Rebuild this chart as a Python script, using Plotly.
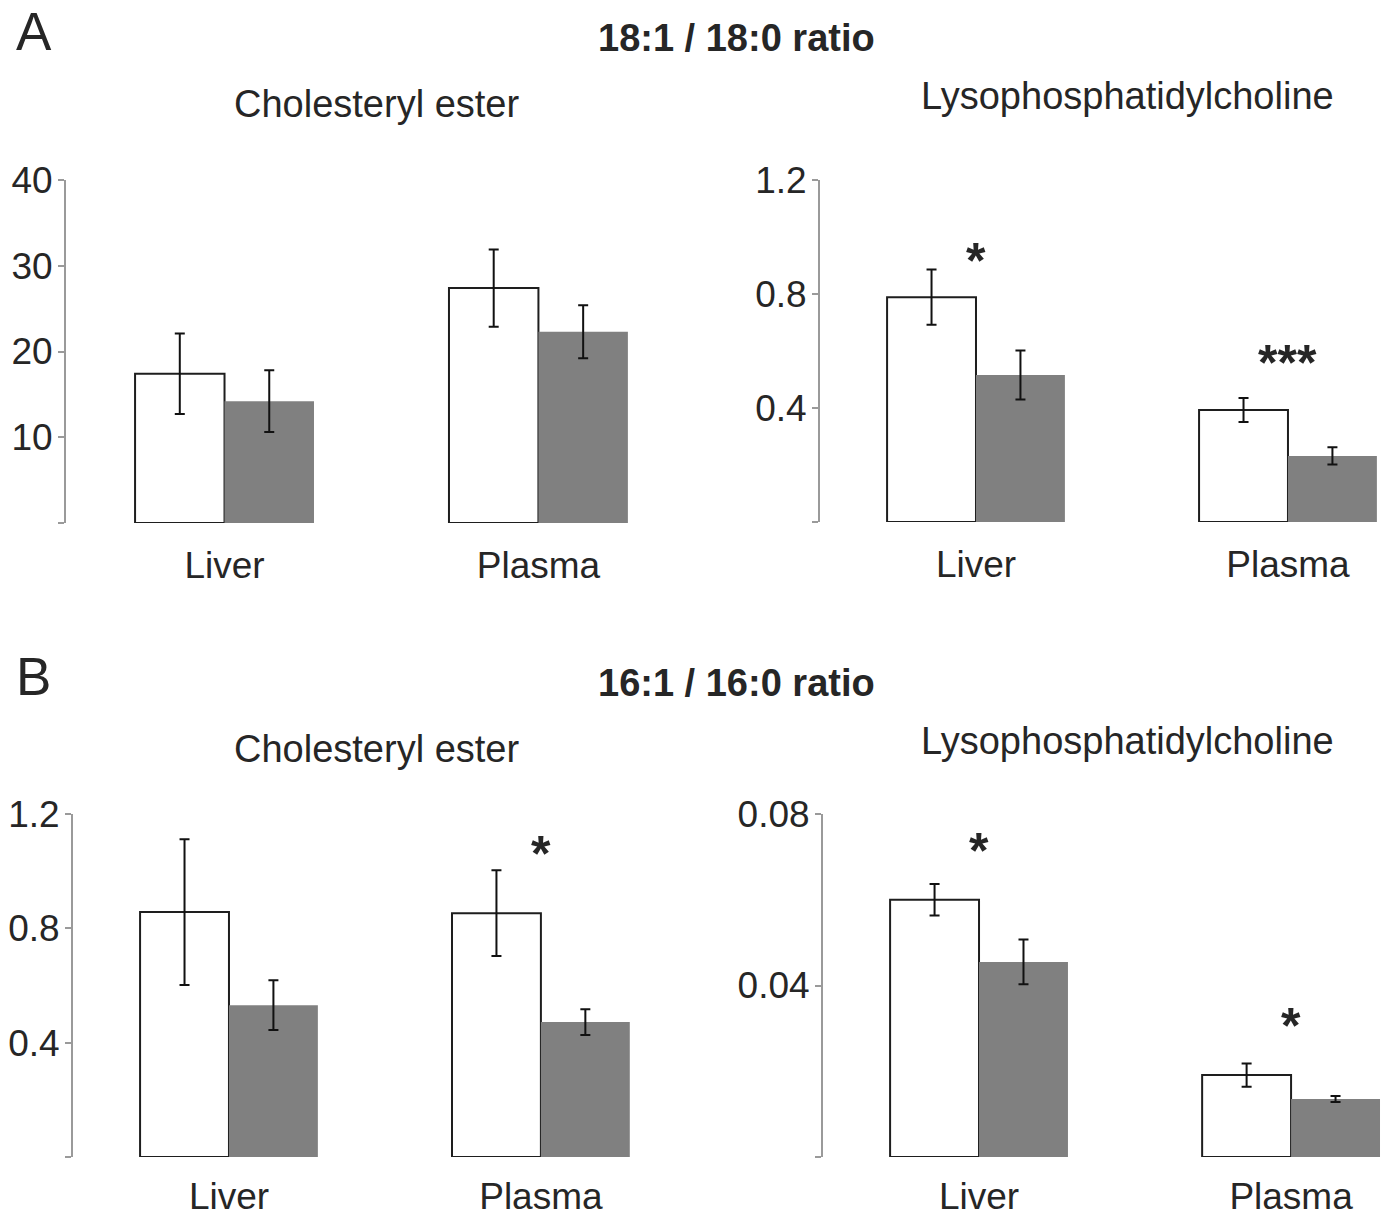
import plotly.graph_objects as go

# ---------------- data ----------------
categories = ["Liver", "Plasma"]

# Panel A: 18:1 / 18:0 ratio
a_ce_white = [17.4, 27.4]
a_ce_white_err = [4.7, 4.5]
a_ce_gray = [14.2, 22.3]
a_ce_gray_err = [3.6, 3.1]

a_lpc_white = [0.789, 0.393]
a_lpc_white_err = [0.097, 0.042]
a_lpc_gray = [0.516, 0.232]
a_lpc_gray_err = [0.086, 0.030]

# Panel B: 16:1 / 16:0 ratio
b_ce_white = [0.857, 0.853]
b_ce_white_err = [0.255, 0.150]
b_ce_gray = [0.531, 0.472]
b_ce_gray_err = [0.087, 0.045]

b_lpc_white = [0.0600, 0.0191]
b_lpc_white_err = [0.0037, 0.0027]
b_lpc_gray = [0.0455, 0.0135]
b_lpc_gray_err = [0.0052, 0.0007]

# significance markers: (category, label, y in data units)
a_lpc_stars = [("Liver", "*", 0.937), ("Plasma", "***", 0.579)]
b_ce_stars = [("Plasma", "*", 1.080)]
b_lpc_stars = [("Liver", "*", 0.0728), ("Plasma", "*", 0.032)]

a_ce_ticks = [0, 10, 20, 30, 40]
a_lpc_ticks = [0, 0.4, 0.8, 1.2]
b_ce_ticks = [0, 0.4, 0.8, 1.2]
b_lpc_ticks = [0, 0.04, 0.08]

# ---------------- layout geometry ----------------
W, H = 1385, 1218
FONT = "Liberation Sans, Arial, Helvetica, sans-serif"
TXT = "#262626"
AXC = "#9a9a9a"

def px_x(p):
    return p / W

def px_y(p):
    return 1 - p / H

fig = go.Figure()

panels = [
    dict(n=1, xd=(66, 680), yd=(180, 523), xr=(-0.505, 1.451), yr=(0, 40), ticks=a_ce_ticks,
         labels=["", "10", "20", "30", "40"], xstand=17,
         w=a_ce_white, we=a_ce_white_err, g=a_ce_gray, ge=a_ce_gray_err, stars=[]),
    dict(n=2, xd=(820, 1385), yd=(180, 522), xr=(-0.5, 1.311), yr=(0, 1.2), ticks=a_lpc_ticks,
         labels=["", "0.4", "0.8", "1.2"], xstand=17,
         w=a_lpc_white, we=a_lpc_white_err, g=a_lpc_gray, ge=a_lpc_gray_err, stars=a_lpc_stars),
    dict(n=3, xd=(73, 690), yd=(814, 1157), xr=(-0.5, 1.478), yr=(0, 1.2), ticks=b_ce_ticks,
         labels=["", "0.4", "0.8", "1.2"], xstand=14,
         w=b_ce_white, we=b_ce_white_err, g=b_ce_gray, ge=b_ce_gray_err, stars=b_ce_stars),
    dict(n=4, xd=(823, 1385), yd=(814, 1157), xr=(-0.5, 1.301), yr=(0, 0.08), ticks=b_lpc_ticks,
         labels=["", "0.04", "0.08"], xstand=14,
         w=b_lpc_white, we=b_lpc_white_err, g=b_lpc_gray, ge=b_lpc_gray_err, stars=b_lpc_stars),
]

annotations = []
for p in panels:
    n = p["n"]
    xa = "x" if n == 1 else f"x{n}"
    ya = "y" if n == 1 else f"y{n}"
    fig.add_trace(go.Bar(
        x=categories, y=p["w"], xaxis=xa, yaxis=ya,
        marker=dict(color="white", line=dict(color="#1e1e1e", width=2)),
        error_y=dict(type="data", array=p["we"], visible=True, color="#111111", thickness=2, width=5),
        showlegend=False, offsetgroup="w",
    ))
    fig.add_trace(go.Bar(
        x=categories, y=p["g"], xaxis=xa, yaxis=ya,
        marker=dict(color="#808080", line=dict(color="#808080", width=0)),
        error_y=dict(type="data", array=p["ge"], visible=True, color="#111111", thickness=2, width=5),
        showlegend=False, offsetgroup="g",
    ))
    xkey = "xaxis" if n == 1 else f"xaxis{n}"
    ykey = "yaxis" if n == 1 else f"yaxis{n}"
    fig.update_layout(**{
        xkey: dict(domain=[px_x(p["xd"][0]), px_x(p["xd"][1])], range=list(p["xr"]),
                   anchor=ya, showline=False, showgrid=False, zeroline=False, ticks="",
                   tickfont=dict(family=FONT, size=37, color=TXT), ticklabelstandoff=p["xstand"],
                   automargin=False, fixedrange=True),
        ykey: dict(domain=[px_y(p["yd"][1]), px_y(p["yd"][0])], range=list(p["yr"]),
                   anchor=xa, showline=True, linecolor=AXC, linewidth=2, showgrid=False,
                   zeroline=False, ticks="outside", ticklen=6, tickwidth=2, tickcolor=AXC,
                   tickvals=p["ticks"], ticktext=p["labels"],
                   tickfont=dict(family=FONT, size=37, color=TXT), ticklabelstandoff=-2,
                   automargin=False, fixedrange=True),
    })
    for cat, lab, yv in p["stars"]:
        annotations.append(dict(x=cat, y=yv, xref=xa, yref=ya, text=f"<b>{lab}</b>", showarrow=False,
                                font=dict(family=FONT, size=50, color=TXT),
                                xanchor="center", yanchor="middle", yshift=-6))

def txt(x, y, s, size=38, bold=False, xanchor="center"):
    return dict(x=px_x(x), y=px_y(y), xref="paper", yref="paper",
                text=f"<b>{s}</b>" if bold else s, showarrow=False,
                font=dict(family=FONT, size=size, color=TXT),
                xanchor=xanchor, yanchor="middle")

annotations += [
    txt(14, 32, "A", size=53, xanchor="left"),
    txt(736, 38, "18:1 / 18:0 ratio", bold=True),
    txt(376, 104, "Cholesteryl ester"),
    txt(1127, 96, "Lysophosphatidylcholine"),
    txt(14, 676, "B", size=53, xanchor="left"),
    txt(736, 683, "16:1 / 16:0 ratio", bold=True),
    txt(376, 749, "Cholesteryl ester"),
    txt(1127, 741, "Lysophosphatidylcholine"),
]

fig.update_layout(
    width=W, height=H,
    margin=dict(l=0, r=0, t=0, b=0, autoexpand=False),
    paper_bgcolor="white", plot_bgcolor="white",
    barmode="group", bargap=0.43, bargroupgap=0,
    annotations=annotations,
    font=dict(family=FONT, color=TXT),
)

fig.write_html("out.html", config={"displayModeBar": False},
               post_script="document.body.style.margin='0';document.body.style.overflow='hidden';")
